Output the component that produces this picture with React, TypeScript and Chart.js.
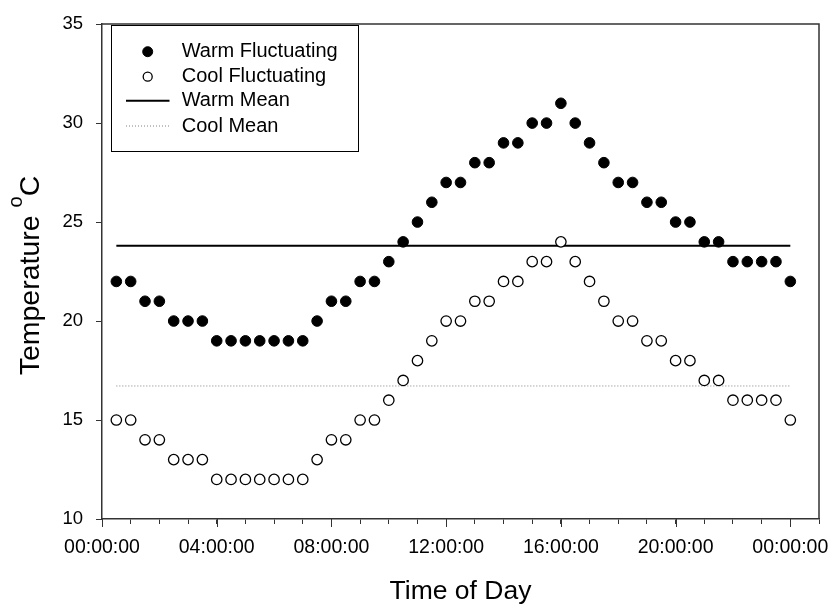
import React, { useEffect, useRef } from "react";
import { Chart, registerables } from "chart.js";

Chart.register(...registerables);

// ---- Data ----
const timeHours = [
  0.5, 1, 1.5, 2, 2.5, 3, 3.5, 4, 4.5, 5, 5.5, 6, 6.5, 7, 7.5, 8,
  8.5, 9, 9.5, 10, 10.5, 11, 11.5, 12, 12.5, 13, 13.5, 14, 14.5, 15, 15.5, 16,
  16.5, 17, 17.5, 18, 18.5, 19, 19.5, 20, 20.5, 21, 21.5, 22, 22.5, 23, 23.5, 24,
];
const warmFluctuating = [
  22, 22, 21, 21, 20, 20, 20, 19, 19, 19, 19, 19, 19, 19, 20, 21,
  21, 22, 22, 23, 24, 25, 26, 27, 27, 28, 28, 29, 29, 30, 30, 31,
  30, 29, 28, 27, 27, 26, 26, 25, 25, 24, 24, 23, 23, 23, 23, 22,
];
const coolFluctuating = [
  15, 15, 14, 14, 13, 13, 13, 12, 12, 12, 12, 12, 12, 12, 13, 14,
  14, 15, 15, 16, 17, 18, 19, 20, 20, 21, 21, 22, 22, 23, 23, 24,
  23, 22, 21, 20, 20, 19, 19, 18, 18, 17, 17, 16, 16, 16, 16, 15,
];
const warmMean = 23.8;
const coolMean = 16.72;

const xTickHours = [0, 4, 8, 12, 16, 20, 24];
const xTickLabels = ["00:00:00", "04:00:00", "08:00:00", "12:00:00", "16:00:00", "20:00:00", "00:00:00"];
const yMin = 10;
const yMax = 35;
const yStep = 5;
const xMin = 0;
const xMax = 25;

const legendLabels = ["Warm Fluctuating", "Cool Fluctuating", "Warm Mean", "Cool Mean"];
const xAxisTitle = "Time of Day";
const yAxisTitleMain = "Temperature ";
const yAxisTitleSup = "o";
const yAxisTitleUnit = "C";

const FONT = "'Liberation Sans', Arial, Helvetica, sans-serif";

const decorPlugin = {
  id: "decor",
  afterDraw(chart: any) {
    const { ctx, chartArea } = chart;
    ctx.save();
    // frame (top & right)
    ctx.strokeStyle = "#333";
    ctx.lineWidth = 1.5;
    ctx.beginPath();
    ctx.moveTo(chartArea.left, chartArea.top);
    ctx.lineTo(chartArea.right, chartArea.top);
    ctx.lineTo(chartArea.right, chartArea.bottom);
    ctx.stroke();

    // longer major ticks on x axis
    const xs = chart.scales.x;
    ctx.strokeStyle = "#333";
    ctx.lineWidth = 1;
    xTickHours.forEach((h) => {
      const px = Math.round(xs.getPixelForValue(h)) + 0.5;
      ctx.beginPath();
      ctx.moveTo(px, chartArea.bottom);
      ctx.lineTo(px, chartArea.bottom + 8);
      ctx.stroke();
    });

    // x axis title
    ctx.fillStyle = "#000";
    ctx.font = `26.5px ${FONT}`;
    ctx.textAlign = "center";
    ctx.textBaseline = "alphabetic";
    ctx.fillText(xAxisTitle, (chartArea.left + chartArea.right) / 2, 599);

    // y axis title with superscript
    ctx.save();
    ctx.translate(39, (chartArea.top + chartArea.bottom) / 2 + 4);
    ctx.rotate(-Math.PI / 2);
    ctx.textAlign = "left";
    const mainFont = `28.5px ${FONT}`;
    const supFont = `20px ${FONT}`;
    ctx.font = mainFont;
    const w1 = ctx.measureText(yAxisTitleMain).width;
    const w3 = ctx.measureText(yAxisTitleUnit).width;
    ctx.font = supFont;
    const w2 = ctx.measureText(yAxisTitleSup).width;
    const total = w1 + w2 + w3;
    const x0 = -total / 2;
    ctx.font = mainFont;
    ctx.fillText(yAxisTitleMain, x0, 0);
    ctx.font = supFont;
    ctx.fillText(yAxisTitleSup, x0 + w1, -17);
    ctx.font = mainFont;
    ctx.fillText(yAxisTitleUnit, x0 + w1 + w2, 0);
    ctx.restore();

    // legend
    const bx = 111.5, by = 25.5, bw = 247, bh = 126;
    ctx.strokeStyle = "#000";
    ctx.lineWidth = 1;
    ctx.strokeRect(bx, by, bw, bh);
    const rows = [51.7, 76.7, 100.7, 126];
    const markerX = 147.7;
    const textX = 181.7;
    ctx.font = `20px ${FONT}`;
    ctx.textAlign = "left";
    ctx.textBaseline = "middle";
    legendLabels.forEach((label, i) => {
      const y = rows[i];
      ctx.fillStyle = "#000";
      ctx.fillText(label, textX, y);
      const ds = chart.data.datasets[i];
      if (i === 0 || i === 1) {
        ctx.beginPath();
        ctx.arc(markerX, y, i === 0 ? 5 : 4.5, 0, Math.PI * 2);
        ctx.fillStyle = ds.pointBackgroundColor;
        ctx.fill();
        ctx.strokeStyle = ds.pointBorderColor;
        ctx.lineWidth = ds.pointBorderWidth;
        ctx.stroke();
      } else {
        ctx.beginPath();
        ctx.strokeStyle = ds.borderColor;
        ctx.lineWidth = ds.borderWidth;
        ctx.setLineDash(ds.borderDash || []);
        ctx.moveTo(126, y);
        ctx.lineTo(169.5, y);
        ctx.stroke();
        ctx.setLineDash([]);
      }
    });
    ctx.restore();
  },
};

export default function App() {
  const canvasRef = useRef<HTMLCanvasElement | null>(null);

  useEffect(() => {
    const canvas = canvasRef.current;
    if (!canvas) return;
    const first = timeHours[0];
    const last = timeHours[timeHours.length - 1];
    const chart = new Chart(canvas, {
      type: "scatter",
      data: {
        datasets: [
          {
            label: legendLabels[0],
            data: timeHours.map((x, i) => ({ x, y: warmFluctuating[i] })),
            showLine: false,
            pointRadius: 5.3,
            pointBackgroundColor: "#000",
            pointBorderColor: "#000",
            pointBorderWidth: 1,
            order: 0,
          },
          {
            label: legendLabels[1],
            data: timeHours.map((x, i) => ({ x, y: coolFluctuating[i] })),
            showLine: false,
            pointRadius: 5.2,
            pointBackgroundColor: "#fff",
            pointBorderColor: "#000",
            pointBorderWidth: 1.3,
            order: 1,
          },
          {
            label: legendLabels[2],
            type: "line",
            data: [
              { x: first, y: warmMean },
              { x: last, y: warmMean },
            ],
            borderColor: "#000",
            borderWidth: 2,
            pointRadius: 0,
            fill: false,
            order: 2,
          },
          {
            label: legendLabels[3],
            type: "line",
            data: [
              { x: first, y: coolMean },
              { x: last, y: coolMean },
            ],
            borderColor: "#808080",
            borderWidth: 1,
            borderDash: [1, 2],
            pointRadius: 0,
            fill: false,
            order: 3,
          },
        ] as any,
      },
      options: {
        animation: false,
        responsive: false,
        layout: { padding: { top: 15, right: 18, left: 0, bottom: 0 } },
        plugins: { legend: { display: false }, tooltip: { enabled: false } },
        scales: {
          x: {
            type: "linear",
            min: xMin,
            max: xMax,
            ticks: {
              stepSize: 1,
              autoSkip: false,
              maxRotation: 0,
              minRotation: 0,
              color: "#000",
              padding: 12,
              font: { family: FONT, size: 19.5 },
              callback: (v: any) => {
                const i = xTickHours.indexOf(Number(v));
                return i >= 0 ? xTickLabels[i] : "";
              },
            },
            grid: { drawOnChartArea: false, drawTicks: true, tickLength: 5, color: "#333", lineWidth: 1 },
            border: { display: true, color: "#333", width: 1.5 },
            afterFit: (s: any) => {
              s.height = 89;
            },
          },
          y: {
            type: "linear",
            min: yMin,
            max: yMax,
            ticks: {
              stepSize: yStep,
              color: "#000",
              padding: 13,
              font: { family: FONT, size: 18.5 },
            },
            grid: { drawOnChartArea: false, drawTicks: true, tickLength: 6, color: "#333", lineWidth: 1 },
            border: { display: true, color: "#333", width: 1.5 },
            afterFit: (s: any) => {
              s.width = 102;
            },
          },
        },
      } as any,
      plugins: [decorPlugin],
    });
    return () => chart.destroy();
  }, []);

  return (
    <div style={{ position: "fixed", left: 0, top: 0, width: 837, height: 608, background: "#fff" }}>
      <canvas ref={canvasRef} width={837} height={608} style={{ width: 837, height: 608, display: "block" }} />
    </div>
  );
}
